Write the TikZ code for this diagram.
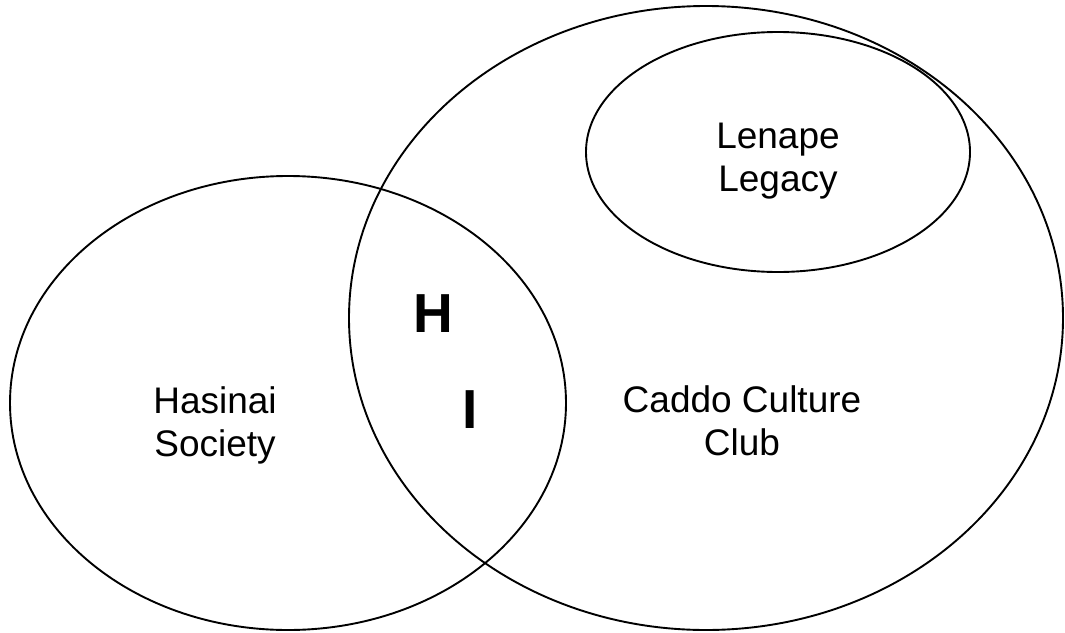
\documentclass[tikz,border=0pt]{standalone}
\usepackage{fontspec}
\setmainfont{Liberation Sans}
\begin{document}
\begin{tikzpicture}[x=1pt,y=-1pt,
  ring/.style={draw=black,line width=1.9pt},
  setlabel/.style={inner sep=0pt,align=center,anchor=north,
    font=\fontsize{37}{43}\selectfont},
  zonemark/.style={inner sep=0pt,anchor=base,
    font=\fontsize{55}{60}\selectfont\bfseries}]
\useasboundingbox (0,0) rectangle (1065,632);
% the three sets
\draw[ring] (288,403) ellipse [x radius=278, y radius=227];
\draw[ring] (706,318) ellipse [x radius=357, y radius=312];
\draw[ring] (778,152) ellipse [x radius=192, y radius=120];
% set names
\node[setlabel] (hasinai) at (215,386) {Hasinai\\Society};
\node[setlabel] (caddo) at (742,385) {Caddo Culture\\Club};
\node[setlabel] (lenape) at (778,123) {Lenape\\Legacy};
% markers in the overlap
\node[zonemark] (h) at (433,332) {H};
\node[zonemark] (i) at (470,428) {I};
\end{tikzpicture}
\end{document}
